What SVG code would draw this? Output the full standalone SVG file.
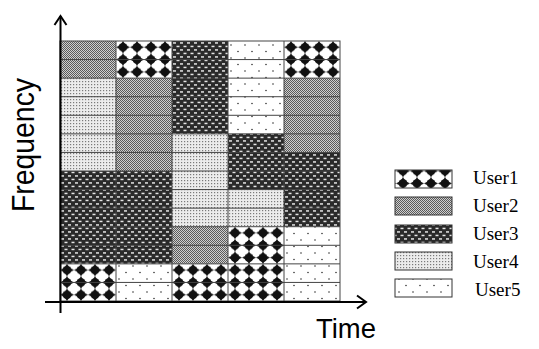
<svg xmlns="http://www.w3.org/2000/svg" width="539" height="349" viewBox="0 0 539 349">
<style>
.u1{fill:url(#p1)}.u2{fill:url(#p2)}.u3{fill:url(#p3)}.u4{fill:url(#p4)}.u5{fill:url(#p5)}
.gl{stroke:#444;stroke-width:1;fill:none}
.ax{stroke:#000;stroke-width:2;fill:none}
.lb{stroke:#333;stroke-width:1}
.lt{font-family:"Liberation Serif","Times New Roman",serif;font-size:19px;fill:#000}
.al{font-family:"Liberation Sans",Arial,sans-serif;fill:#000}
</style>
<defs>
<pattern id="p1" patternUnits="userSpaceOnUse" x="60" y="41" width="14" height="12.381">
<rect width="14" height="12.381" fill="#fff"/>
<g transform="translate(7,6.19)" fill="#111">
<circle r="4.4"/>
<path d="M0,-6.3L2.4,-2.4L7.1,0L2.4,2.4L0,6.3L-2.4,2.4L-7.1,0L-2.4,-2.4Z"/>
</g>
</pattern>
<pattern id="p2" patternUnits="userSpaceOnUse" x="0" y="0" width="2" height="2">
<rect width="2" height="2" fill="#cfcfcf"/>
<rect width="1" height="1" fill="#5a5a5a"/>
<rect x="1" y="1" width="1" height="1" fill="#5a5a5a"/>
</pattern>
<pattern id="p3" patternUnits="userSpaceOnUse" x="60" y="41" width="7" height="7">
<rect width="7" height="7" fill="#2a2a2a"/>
<rect x="1" y="1.2" width="3" height="1.5" fill="#e4e4e4"/>
<rect x="4.5" y="4.7" width="3" height="1.5" fill="#e4e4e4"/>
<rect x="-2.5" y="4.7" width="3" height="1.5" fill="#e4e4e4"/>
</pattern>
<pattern id="p4" patternUnits="userSpaceOnUse" x="60" y="41" width="3" height="3">
<rect width="3" height="3" fill="#ececec"/>
<rect x="1" y="1" width="1.2" height="1.2" fill="#7a7a7a"/>
</pattern>
<pattern id="p5" patternUnits="userSpaceOnUse" x="60" y="41" width="14" height="13">
<rect width="14" height="13" fill="#fff"/>
<circle cx="3" cy="4" r="0.8" fill="#333"/>
<circle cx="10" cy="10.5" r="0.8" fill="#333"/>
</pattern>
</defs>

<g id="grid">
<g id="col1">
<rect class="u2" x="60" y="41" width="56" height="37.14"/>
<rect class="u4" x="60" y="78.14" width="56" height="92.86"/>
<rect class="u3" x="60" y="171" width="56" height="92.86"/>
<rect class="u1" x="60" y="263.86" width="56" height="37.14"/>
</g>
<g id="col2">
<rect class="u1" x="116" y="41" width="56" height="37.14"/>
<rect class="u2" x="116" y="78.14" width="56" height="92.86"/>
<rect class="u3" x="116" y="171" width="56" height="92.86"/>
<rect class="u5" x="116" y="263.86" width="56" height="37.14"/>
</g>
<g id="col3">
<rect class="u3" x="172" y="41" width="56" height="92.86"/>
<rect class="u4" x="172" y="133.86" width="56" height="92.86"/>
<rect class="u2" x="172" y="226.71" width="56" height="37.14"/>
<rect class="u1" x="172" y="263.86" width="56" height="37.14"/>
</g>
<g id="col4">
<rect class="u5" x="228" y="41" width="56" height="92.86"/>
<rect class="u3" x="228" y="133.86" width="56" height="55.71"/>
<rect class="u4" x="228" y="189.57" width="56" height="37.14"/>
<rect class="u1" x="228" y="226.71" width="56" height="74.29"/>
</g>
<g id="col5">
<rect class="u1" x="284" y="41" width="56" height="37.14"/>
<rect class="u2" x="284" y="78.14" width="56" height="74.29"/>
<rect class="u3" x="284" y="152.43" width="56" height="74.29"/>
<rect class="u5" x="284" y="226.71" width="56" height="74.29"/>
</g>
<path class="gl" d="M60,59.57H340M60,78.14H340M60,96.71H340M60,115.29H340M60,133.86H340M60,152.43H340M60,171H340M60,189.57H340M60,208.14H340M60,226.71H340M60,245.29H340M60,263.86H340M60,282.43H340"/>
<path class="gl" d="M116,41V301M172,41V301M228,41V301M284,41V301"/>
<rect class="gl" x="60" y="41" width="280" height="260" stroke="#555"/>
</g>

<g id="connectors">
<path id="freq-axis" class="ax" d="M60.5,313V16"/>
<path class="ax" d="M54.5,25L60.5,16L66.5,25"/>
<path id="time-axis" class="ax" d="M45,302H366"/>
<path class="ax" d="M357,295.5L366,302L357,308.5"/>
</g>

<g id="axis-labels">
<text class="al" font-size="31" transform="translate(34,212) rotate(-90)" textLength="134" lengthAdjust="spacingAndGlyphs">Frequency</text>
<text class="al" font-size="28" x="316" y="338" textLength="60" lengthAdjust="spacingAndGlyphs">Time</text>
</g>

<g id="legend">
<g id="legend-user1"><rect class="u1 lb" x="395" y="170" width="57" height="18"/><text class="lt" x="473" y="184">User1</text></g>
<g id="legend-user2"><rect class="u2 lb" x="395" y="197" width="57" height="18"/><text class="lt" x="473" y="212">User2</text></g>
<g id="legend-user3"><rect class="u3 lb" x="395" y="225" width="57" height="18"/><text class="lt" x="473" y="240">User3</text></g>
<g id="legend-user4"><rect class="u4 lb" x="395" y="252" width="57" height="18"/><text class="lt" x="473" y="268">User4</text></g>
<g id="legend-user5"><rect class="u5 lb" x="395" y="279" width="57" height="18"/><text class="lt" x="475" y="296">User5</text></g>
</g>
</svg>
